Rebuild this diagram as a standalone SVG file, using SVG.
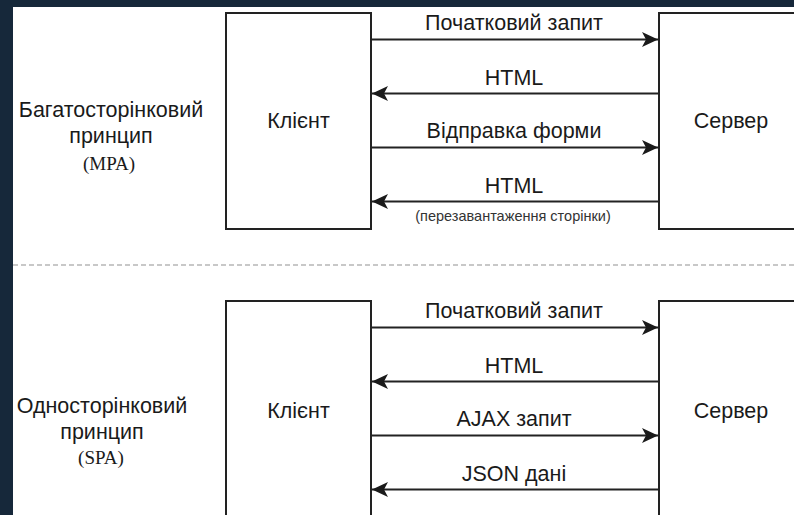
<svg xmlns="http://www.w3.org/2000/svg" width="794" height="515" viewBox="0 0 794 515">
  <style>
    .box { fill: #ffffff; stroke: #222222; stroke-width: 2; }
    .flow { fill: none; stroke: #222222; stroke-width: 2; }
    .sep { fill: none; stroke: #c8c8c8; stroke-width: 2; stroke-dasharray: 5 3; }
    .lbl { font-family: "Liberation Sans", Arial, sans-serif; font-size: 21.5px; fill: #1a1a1a; text-anchor: middle; }
    .note { font-family: "Liberation Sans", Arial, sans-serif; font-size: 14.5px; fill: #333333; text-anchor: middle; }
    .abbr { font-family: "Liberation Serif", "Times New Roman", serif; font-size: 19px; fill: #1a1a1a; text-anchor: middle; }
  </style>
  <defs>
    <marker id="head" markerUnits="userSpaceOnUse" markerWidth="16" markerHeight="15" refX="16" refY="7.5" orient="auto" viewBox="0 0 16 15">
      <path d="M0,0 L16,7.5 L0,15 L4,7.5 Z" fill="#1a1a1a"/>
    </marker>
  </defs>

  <!-- slide background and white canvas -->
  <rect x="0" y="0" width="794" height="515" fill="#16283a"/>
  <rect x="13" y="7" width="781" height="508" fill="#ffffff"/>

  <!-- multi-page section -->
  <g id="mpa-title">
    <text class="lbl" x="111" y="117">Багатосторінковий</text>
    <text class="lbl" x="111" y="143">принцип</text>
    <text class="abbr" x="109" y="170">(MPA)</text>
  </g>
  <g id="mpa-client">
    <rect class="box" x="226" y="13" width="145" height="216"/>
    <text class="lbl" x="298.5" y="128">Клієнт</text>
  </g>
  <g id="mpa-server">
    <rect class="box" x="659" y="13" width="150" height="216"/>
    <text class="lbl" x="731" y="128">Сервер</text>
  </g>

  <!-- divider between the two modes -->
  <line class="sep" x1="13" y1="265" x2="794" y2="265"/>

  <!-- single-page section -->
  <g id="spa-title">
    <text class="lbl" x="102" y="413">Односторінковий</text>
    <text class="lbl" x="102" y="439">принцип</text>
    <text class="abbr" x="101" y="464">(SPA)</text>
  </g>
  <g id="spa-client">
    <rect class="box" x="226" y="301" width="145" height="230"/>
    <text class="lbl" x="298.5" y="418">Клієнт</text>
  </g>
  <g id="spa-server">
    <rect class="box" x="659" y="301" width="150" height="230"/>
    <text class="lbl" x="731" y="418">Сервер</text>
  </g>

  <!-- request / response connectors -->
  <g id="connectors">
    <line class="flow" x1="371" y1="39.5" x2="658" y2="39.5" marker-end="url(#head)"/>
    <text class="lbl" x="514" y="30">Початковий запит</text>
    <line class="flow" x1="659" y1="93.5" x2="372" y2="93.5" marker-end="url(#head)"/>
    <text class="lbl" x="514" y="85">HTML</text>
    <line class="flow" x1="371" y1="147.5" x2="658" y2="147.5" marker-end="url(#head)"/>
    <text class="lbl" x="514" y="138">Відправка форми</text>
    <line class="flow" x1="659" y1="201.5" x2="372" y2="201.5" marker-end="url(#head)"/>
    <text class="lbl" x="514" y="193">HTML</text>
    <text class="note" x="513" y="221">(перезавантаження сторінки)</text>

    <line class="flow" x1="371" y1="327.5" x2="658" y2="327.5" marker-end="url(#head)"/>
    <text class="lbl" x="514" y="318">Початковий запит</text>
    <line class="flow" x1="659" y1="381.5" x2="372" y2="381.5" marker-end="url(#head)"/>
    <text class="lbl" x="514" y="373">HTML</text>
    <line class="flow" x1="371" y1="435.5" x2="658" y2="435.5" marker-end="url(#head)"/>
    <text class="lbl" x="514" y="426">AJAX запит</text>
    <line class="flow" x1="659" y1="489.5" x2="372" y2="489.5" marker-end="url(#head)"/>
    <text class="lbl" x="514" y="481">JSON дані</text>
  </g>
</svg>
